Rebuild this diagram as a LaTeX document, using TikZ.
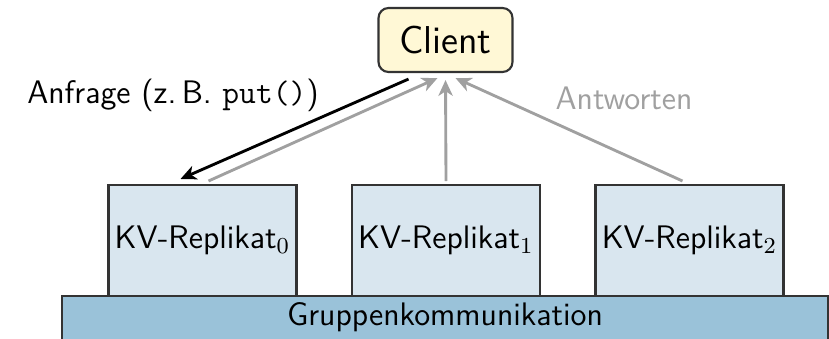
\documentclass[tikz,border=0pt]{standalone}
\usetikzlibrary{calc,arrows.meta}
\definecolor{clientfill}{HTML}{FFF8D6}
\definecolor{repfill}{HTML}{D9E6EF}
\definecolor{barfill}{HTML}{9AC2D9}
\definecolor{edgecol}{HTML}{333333}
\definecolor{respgray}{HTML}{A0A0A0}
\begin{document}
\begin{tikzpicture}[x=0.35pt,y=-0.35pt,
  font=\sffamily\fontsize{11.4}{13.7}\selectfont,
  clientbox/.style={draw=edgecol,line width=0.75pt,fill=clientfill,rounded corners=3.5pt,
    minimum width=46.9pt,minimum height=22.4pt,inner sep=0pt,font=\sffamily\fontsize{13.6}{16}\selectfont},
  repbox/.style={draw=edgecol,line width=0.75pt,fill=repfill,minimum width=65.8pt,minimum height=38.8pt,inner sep=0pt},
  barbox/.style={draw=edgecol,line width=0.75pt,fill=barfill,minimum width=268.1pt,minimum height=19pt,inner sep=0pt},
  req/.style={line width=1pt,black,-{Stealth[length=5.5pt,width=5pt,inset=1.6pt]}},
  resp/.style={line width=1pt,respgray,-{Stealth[length=5.5pt,width=5pt,inset=1.6pt]}}]
\clip (0,0) rectangle (829,338);
\node[barbox] (bar) at (445,323) {};
\node[anchor=center] (bartext) at (445,317) {Gruppenkommunikation};
\node[repbox] (r0) at (202.5,240.5) {KV-Replikat$_0$};
\node[repbox] (r1) at (446,240.5) {KV-Replikat$_1$};
\node[repbox] (r2) at (689.5,240.5) {KV-Replikat$_2$};
\node[clientbox] (client) at (445.5,40) {Client};
\draw[req] ($(client.south)+(-37,6)$) -- ($(r0.north)+(-22,-5)$);
\draw[resp] ($(r0.north)+(6,-3)$) -- ($(client.south)+(-8,5)$);
\draw[resp] ($(r1.north)+(0,-3)$) -- ($(client.south)+(0,7)$);
\draw[resp] ($(r2.north)+(-7,-3)$) -- ($(client.south)+(10,5)$);
\node (anfrage) at (173,95) {Anfrage (z.\,B. \texttt{put()})};
\node[text=respgray] (antworten) at (624,98) {Antworten};
\end{tikzpicture}
\end{document}
